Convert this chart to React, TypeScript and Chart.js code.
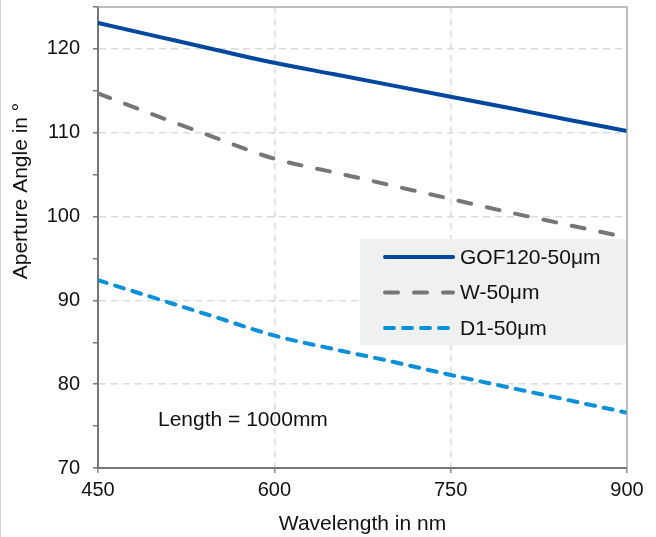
import React, { useEffect, useRef } from "react";
import { Chart, registerables } from "chart.js";

Chart.register(...registerables);

const wavelengths = [450, 500, 550, 600, 650, 700, 750, 800, 850, 900];
const gof120 = [123.1, 121.5, 119.9, 118.35, 117.0, 115.65, 114.3, 112.95, 111.55, 110.2];
const w50 = [114.7, 112.0, 109.4, 106.9, 105.3, 103.7, 102.1, 100.5, 99.0, 97.5];
const d150 = [92.4, 90.2, 88.0, 85.8, 84.2, 82.7, 81.1, 79.6, 78.1, 76.6];
const seriesNames = ["GOF120-50μm", "W-50μm", "D1-50μm"];
const seriesColors = ["#00479d", "#767676", "#0a90da"];
const xTickValues = [450, 600, 750, 900];
const yMin = 70;
const yMax = 125;
const xTitle = "Wavelength in nm";
const yTitle = "Aperture Angle in °";
const noteText = "Length = 1000mm";

const FONT = "'Liberation Sans', Arial, sans-serif";

const overlay = {
  id: "overlay",
  beforeDraw(chart: any) {
    const { ctx } = chart;
    ctx.save();
    ctx.fillStyle = "#d4d4d4";
    ctx.fillRect(0, 0, 1, chart.height);
    ctx.restore();
  },
  afterDatasetsDraw(chart: any) {
    const { ctx, chartArea: a } = chart;
    ctx.save();
    // top & right frame
    ctx.strokeStyle = "#a8a8a8";
    ctx.lineWidth = 1.5;
    ctx.beginPath();
    ctx.moveTo(a.left, a.top);
    ctx.lineTo(a.right, a.top);
    ctx.lineTo(a.right, a.bottom);
    ctx.stroke();

    // legend box
    const bx = 360, by = 239, bw = a.right - 1 - 360, bh = 106;
    ctx.fillStyle = "#eff0f0";
    ctx.fillRect(bx, by, bw, bh);
    ctx.font = `21px ${FONT}`;
    ctx.textBaseline = "middle";
    ctx.textAlign = "left";
    chart.data.datasets.forEach((ds: any, i: number) => {
      const y = 257 + i * 35.5;
      ctx.strokeStyle = ds.borderColor;
      ctx.lineWidth = ds.borderWidth;
      ctx.lineCap = "round";
      ctx.setLineDash(ds.borderDash || []);
      ctx.beginPath();
      ctx.moveTo(385, y);
      ctx.lineTo(453, y);
      ctx.stroke();
      ctx.setLineDash([]);
      ctx.fillStyle = "#111";
      ctx.fillText(ds.label, 460, y + 1);
    });

    // note
    ctx.fillStyle = "#111";
    ctx.fillText(noteText, 158, 420);

    // axis titles
    ctx.textAlign = "center";
    ctx.fillText(xTitle, (a.left + a.right) / 2, 524);
    ctx.translate(21, 191);
    ctx.rotate(-Math.PI / 2);
    ctx.fillText(yTitle, 0, 0);
    ctx.restore();
  },
};

export default function App() {
  const ref = useRef<HTMLCanvasElement | null>(null);
  useEffect(() => {
    document.body.style.margin = "0";
    const canvas = ref.current;
    if (!canvas) return;
    const mk = (vals: number[]) => wavelengths.map((x, i) => ({ x, y: vals[i] }));
    const chart = new Chart(canvas, {
      type: "line",
      data: {
        datasets: [
          {
            label: seriesNames[0],
            data: mk(gof120),
            borderColor: seriesColors[0],
            borderWidth: 4,
            pointRadius: 0,
            cubicInterpolationMode: "monotone",
            borderCapStyle: "round",
          },
          {
            label: seriesNames[1],
            data: mk(w50),
            borderColor: seriesColors[1],
            borderWidth: 4,
            borderDash: [13, 16],
            pointRadius: 0,
            cubicInterpolationMode: "monotone",
            borderCapStyle: "round",
          },
          {
            label: seriesNames[2],
            data: mk(d150),
            borderColor: seriesColors[2],
            borderWidth: 4,
            borderDash: [9, 9],
            pointRadius: 0,
            cubicInterpolationMode: "monotone",
            borderCapStyle: "round",
          },
        ],
      },
      options: {
        animation: false,
        responsive: false,
        layout: { padding: { left: 0, top: 7, right: 29, bottom: 0 } },
        plugins: { legend: { display: false }, tooltip: { enabled: false } },
        scales: {
          x: {
            type: "linear",
            min: xTickValues[0],
            max: xTickValues[xTickValues.length - 1],
            afterBuildTicks: (s: any) => {
              s.ticks = xTickValues.map((v) => ({ value: v }));
            },
            afterFit: (s: any) => {
              s.height = 69;
              s.paddingLeft = 0;
              s.paddingRight = 0;
            },
            ticks: {
              font: { size: 20, family: FONT },
              color: "#111",
              padding: 5,
              maxRotation: 0,
            },
            grid: {
              color: (c: any) => {
                const v = c.tick?.value;
                return v > xTickValues[0] && v < xTickValues[xTickValues.length - 1] ? "#dcdcdc" : "rgba(0,0,0,0)";
              },
              lineWidth: 1.5,
              tickLength: 5,
              tickColor: "#8a8a8a",
              tickWidth: 1.5,
            },
            border: { color: "#767676", width: 2, dash: [7, 5] },
          },
          y: {
            min: yMin,
            max: yMax,
            ticks: {
              stepSize: 5,
              font: { size: 20, family: FONT },
              color: "#111",
              padding: 13,
              callback: (v: any) => (Number(v) % 10 === 0 ? String(v) : ""),
            },
            afterFit: (s: any) => {
              s.width = 98;
              s.paddingTop = 0;
              s.paddingBottom = 0;
            },
            grid: {
              color: (c: any) => {
                const v = c.tick?.value;
                return v % 10 === 0 && v > yMin && v < yMax ? "#dcdcdc" : "rgba(0,0,0,0)";
              },
              lineWidth: 1.5,
              tickLength: 5,
              tickColor: "#767676",
              tickWidth: 1.5,
            },
            border: { color: "#767676", width: 2, dash: [7, 5] },
          },
        },
      },
      plugins: [overlay],
    } as any);
    return () => chart.destroy();
  }, []);
  return (
    <div style={{ width: 656, height: 537 }}>
      <canvas ref={ref} width={656} height={537} style={{ display: "block" }} />
    </div>
  );
}
